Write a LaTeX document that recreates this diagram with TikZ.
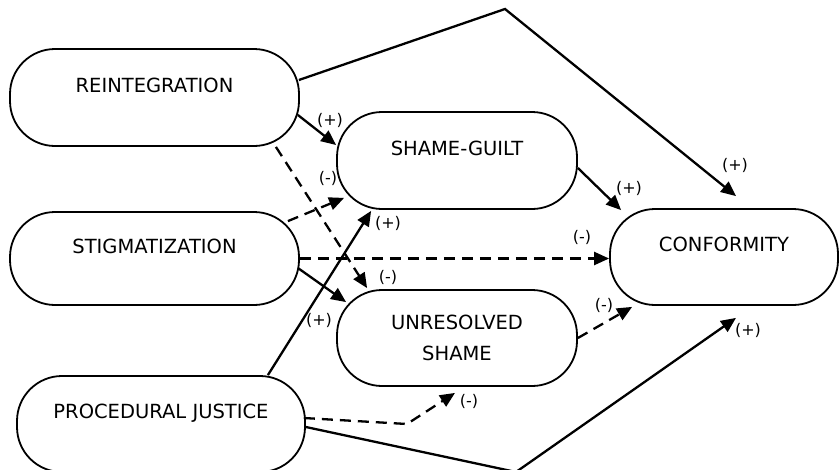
\documentclass[tikz,border=0pt]{standalone}
\usepackage{fontspec}
\setmainfont{DejaVu Sans}
\usetikzlibrary{arrows.meta}
\begin{document}
\begin{tikzpicture}[x=1pt,y=-1pt]
            %
            % `factor' is used for the rounded boxes.
            % `oneline' lifts a single line of text to the top half of a box.
            % `path' is used for solid arrows, `dashpath' for dashed ones.
            % `sign' is used for the (+) and (-) labels.
            \tikzstyle{factor} = [draw,line width=1.8pt,rounded corners=45pt,inner sep=0pt,align=center,font=\fontsize{19.5}{31}\selectfont]
            \tikzstyle{oneline} = [text height=15pt,text depth=26pt]
            \tikzstyle{path} = [line width=2.3pt,-{Triangle[length=15pt,width=13pt]}]
            \tikzstyle{dashpath} = [path,dash pattern=on 11pt off 7pt]
            \tikzstyle{sign} = [inner sep=0pt,font=\fontsize{16}{19}\selectfont]
            %
            \useasboundingbox (0,0) rectangle (840,469);
            \clip (0,0) rectangle (840,469);
            %
            % Boxes
            \node[factor,oneline,minimum width=289pt,minimum height=97pt] (reint) at (154.5,97.5) {REINTEGRATION};
            \node[factor,oneline,minimum width=289pt,minimum height=93pt] (stig) at (154.5,258.5) {STIGMATIZATION};
            \node[factor,oneline,minimum width=288pt,minimum height=96pt] (proc) at (161,424) {PROCEDURAL JUSTICE};
            \node[factor,oneline,minimum width=240pt,minimum height=97pt] (guilt) at (457,160.5) {SHAME-GUILT};
            \node[factor,minimum width=240pt,minimum height=96pt] (unres) at (457,338) {UNRESOLVED\\SHAME};
            \node[factor,oneline,minimum width=228pt,minimum height=96pt] (conf) at (724,257) {CONFORMITY};
            %
            % Bends
            \coordinate (peak) at (505,9);
            \coordinate (dip) at (407,424);
            \coordinate (low) at (516,472);
            %
            % Arrows
            \draw[path] ([shift={(-1,-17.5)}]reint.east) -- (peak) -- ([shift={(12,-12)}]conf.north);
            \draw[path] ([shift={(-2,17.5)}]reint.east) -- ([shift={(0,-15.5)}]guilt.west);
            \draw[dashpath] ([shift={(-24,0)}]reint.south east) -- ([shift={(31,-1)}]unres.north west);
            \draw[dashpath] ([shift={(-12,10)}]stig.north east) -- ([shift={(8,-12)}]guilt.south west);
            \draw[dashpath] (stig.east) -- (stig.east -| conf.west);
            \draw[path] ([shift={(-2,9.5)}]stig.east) -- ([shift={(10,13)}]unres.north west);
            \draw[path] ([shift={(-38,0)}]proc.north east) -- ([shift={(35,1)}]guilt.south west);
            \draw[dashpath] ([shift={(-2,-6)}]proc.east) -- (dip) -- ([shift={(-2,6)}]unres.south);
            \draw[path] ([shift={(0,3)}]proc.east) -- (low) -- ([shift={(12,12)}]conf.south);
            \draw[path] ([shift={(0,7.5)}]guilt.east) -- ([shift={(12,2)}]conf.north west);
            \draw[dashpath] (unres.east) -- ([shift={(23,1)}]conf.south west);
            %
            % Signs
            \node[sign] (s1) at (735,165) {(+)};
            \node[sign] (s2) at (330,120) {(+)};
            \node[sign] (s3) at (388,277) {(-)};
            \node[sign] (s4) at (328,178) {(-)};
            \node[sign] (s5) at (582,237) {(-)};
            \node[sign] (s6) at (319,320) {(+)};
            \node[sign] (s7) at (388,223) {(+)};
            \node[sign] (s8) at (469,401) {(-)};
            \node[sign] (s9) at (748,330) {(+)};
            \node[sign] (s10) at (629,188) {(+)};
            \node[sign] (s11) at (604,305) {(-)};
        \end{tikzpicture}
\end{document}
